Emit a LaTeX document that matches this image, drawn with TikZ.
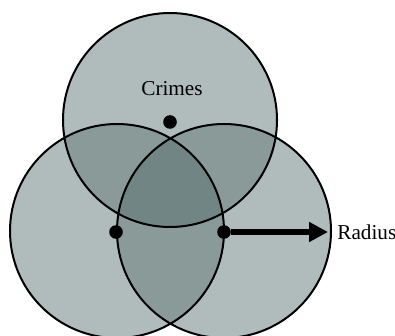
\documentclass[tikz,border=0pt]{standalone}
\usepackage{fontspec}
\setmainfont{Liberation Serif}
\usetikzlibrary{arrows, arrows.meta}
\usetikzlibrary{calc}

\definecolor{zoneone}{HTML}{B0BCBB}
\definecolor{zonetwo}{HTML}{8A9A98}
\definecolor{zonethree}{HTML}{718684}

\begin{document}
\begin{tikzpicture}[x=0.5pt, y=-0.5pt, font=\fontsize{10.6}{12}\selectfont]
      \useasboundingbox (0,0) rectangle (395,336);
      \coordinate (t) at (170,120);
      \coordinate (l) at (117,231);
      \coordinate (r) at (224,231);

      % single, pairs, all three
      \fill[zoneone] (t) circle (107) (l) circle (107) (r) circle (107);
      \begin{scope} \clip (t) circle (107); \fill[zonetwo] (l) circle (107) (r) circle (107); \end{scope}
      \begin{scope} \clip (l) circle (107); \fill[zonetwo] (r) circle (107); \end{scope}
      \begin{scope} \clip (t) circle (107); \clip (l) circle (107); \fill[zonethree] (r) circle (107); \end{scope}

      \draw[line width=1pt] (t) circle (107) (l) circle (107) (r) circle (107);

      \node[circle, fill, inner sep=0pt, minimum size=6.8pt] (1) at (170,122) {};
      \node[circle, fill, inner sep=0pt, minimum size=6.8pt] (2) at (116,232) {};
      \node[circle, fill, inner sep=0pt, minimum size=6.8pt] (3) at (224,232) {};
      \coordinate (tip) at (328,232);

      \node (crimes) at (172,89) {Crimes};
      \node[anchor=west, inner sep=0pt] (radius) at (337,232) {Radius};

      \draw[line width=3pt, -{Triangle[length=9.5pt, width=9.5pt]}] (3) -- (tip);
    \end{tikzpicture}
\end{document}
